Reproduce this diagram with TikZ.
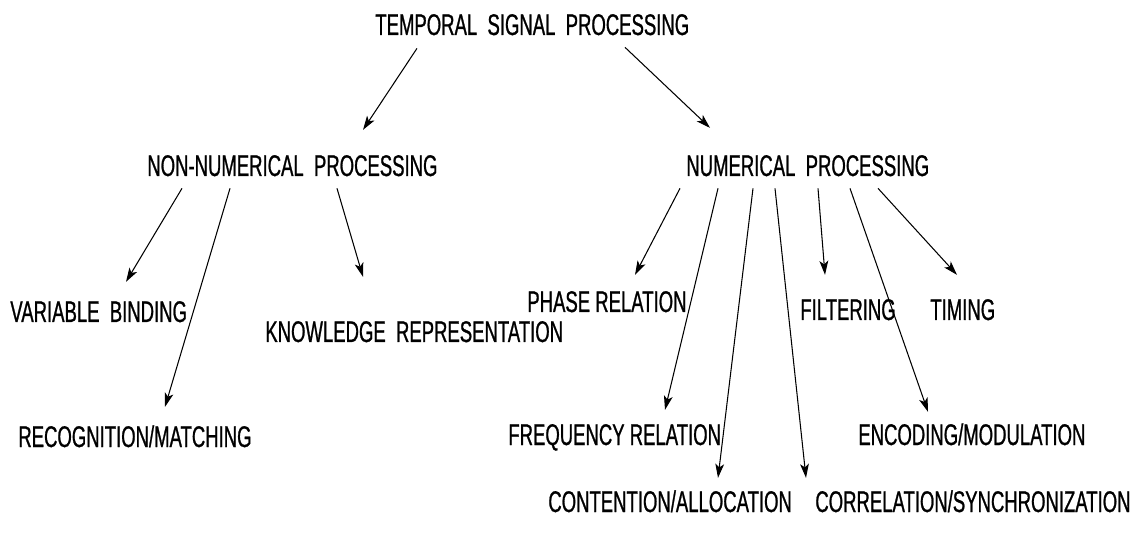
\documentclass[tikz,border=0pt]{standalone}
\usepackage{fontspec}
\newfontfamily\condsans[FakeStretch=0.62,FakeBold=0.8]{Liberation Sans}
\usetikzlibrary{calc,arrows.meta}

\tikzset{
  lbl/.style={anchor=base west, inner sep=0pt, text height=12.4pt, text depth=0pt,
    font=\condsans\fontsize{17}{20}\selectfont},
  arr/.style={line width=0.6pt, -{Stealth[length=8pt,width=5pt,inset=2pt]}}
}

\begin{document}
\begin{tikzpicture}[x=0.02cm, y=-0.02cm]
    \useasboundingbox (0,0) rectangle (1146,533);
    % top and second level
    \node[lbl] (tsp) at (375,35) {TEMPORAL~~SIGNAL~~PROCESSING};
    \node[lbl] (nnp) at (147,176) {NON-NUMERICAL~~PROCESSING};
    \node[lbl] (np) at (686,176) {NUMERICAL~~PROCESSING};
    % leaves
    \node[lbl] (vb) at (10,322) {VARIABLE~~BINDING};
    \node[lbl] (rm) at (18,447) {RECOGNITION/MATCHING};
    \node[lbl] (kr) at (265,342) {KNOWLEDGE~~REPRESENTATION};
    \node[lbl] (pr) at (527,312) {PHASE RELATION};
    \node[lbl] (fr) at (508,445) {FREQUENCY RELATION};
    \node[lbl] (ca) at (548,512) {CONTENTION/ALLOCATION};
    \node[lbl] (cs) at (815,512) {CORRELATION/SYNCHRONIZATION};
    \node[lbl] (fi) at (800,320) {FILTERING};
    \node[lbl] (em) at (858,445) {ENCODING/MODULATION};
    \node[lbl] (ti) at (930,320) {TIMING};
    % arrows
    \draw[arr] ($(tsp.south west)+(42,13)$) -- ($(nnp.north west)+(216,-24)$);
    \draw[arr] ($(tsp.south west)+(250,12)$) -- ($(np.north west)+(24,-26)$);
    \draw[arr] ($(nnp.south west)+(35,12)$) -- ($(vb.north west)+(116,-18)$);
    \draw[arr] ($(nnp.south west)+(83,12)$) -- ($(rm.north west)+(147,-18)$);
    \draw[arr] ($(nnp.south west)+(190,12)$) -- ($(kr.north west)+(98,-43)$);
    \draw[arr] ($(np.south west)+(-6,12)$) -- ($(pr.north west)+(108,-15)$);
    \draw[arr] ($(np.south west)+(32,12)$) -- ($(fr.north west)+(157,-13)$);
    \draw[arr] ($(np.south west)+(67,12)$) -- ($(ca.north west)+(170,-12)$);
    \draw[arr] ($(np.south west)+(89,12)$) -- ($(cs.north west)+(-9,-12)$);
    \draw[arr] ($(np.south west)+(132,12)$) -- ($(fi.north west)+(25,-23)$);
    \draw[arr] ($(np.south west)+(164,12)$) -- ($(em.north west)+(70,-11)$);
    \draw[arr] ($(np.south west)+(192,12)$) -- ($(ti.north west)+(27,-23)$);
\end{tikzpicture}
\end{document}
